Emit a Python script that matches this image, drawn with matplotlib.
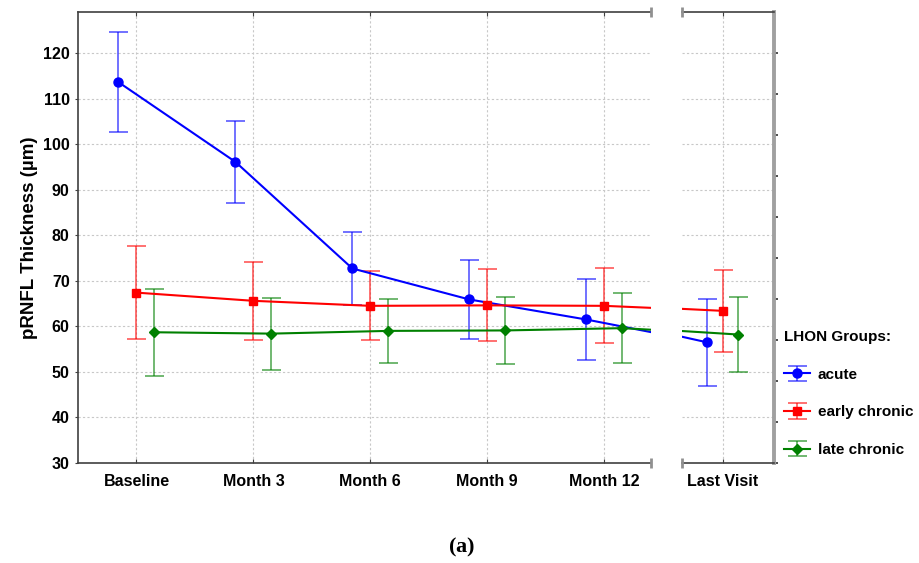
import numpy as np
import matplotlib
matplotlib.use('Agg')
import matplotlib.pyplot as plt
from matplotlib.ticker import FixedLocator

# ..data..

visits = ['Baseline', 'Month 3', 'Month 6', 'Month 9', 'Month 12', 'Last Visit']
groups = ['acute', 'early chronic', 'late chronic']

acute_mean = [113.6, 96.1, 72.7, 65.9, 61.5, 56.5]
acute_err = [11.0, 9.0, 8.1, 8.6, 8.8, 9.6]

early_mean = [67.4, 65.6, 64.5, 64.6, 64.5, 63.4]
early_err = [10.2, 8.5, 7.6, 7.9, 8.2, 9.0]

late_mean = [58.7, 58.4, 59.0, 59.1, 59.6, 58.2]
late_err = [9.6, 7.9, 7.1, 7.4, 7.7, 8.3]

# ..style..

plt.rcParams['font.family'] = ['Liberation Sans', 'DejaVu Sans']
plt.rcParams['font.weight'] = 'bold'
plt.rcParams['mathtext.fontset'] = 'custom'
plt.rcParams['mathtext.rm'] = 'Liberation Serif'
plt.rcParams['mathtext.bf'] = 'Liberation Serif:bold'

series = [
    (acute_mean, acute_err, '#0000ff', 'o', 6.5, -0.154),
    (early_mean, early_err, '#ff0000', 's', 6.0, 0.0),
    (late_mean, late_err, '#008000', 'D', 5.5, 0.154),
]

fig = plt.figure(figsize=(9.19, 5.63), dpi=100)
ax1 = fig.add_axes([78 / 919, 1 - 463 / 563, (651 - 78) / 919, 451 / 563])
ax2 = fig.add_axes([681.7 / 919, 1 - 463 / 563, (773.7 - 681.7) / 919, 451 / 563])

x = np.arange(len(visits))
handles = []
for ax in (ax1, ax2):
    for (mean, err, color, marker, ms, shift), name in zip(series, groups):
        eb = ax.errorbar(x + shift, mean, yerr=err, color=color, lw=1.5,
                         marker=marker, ms=ms, mec=color, mfc=color,
                         ecolor=matplotlib.colors.to_rgba(color, 0.65),
                         elinewidth=1.2, capsize=9.5 * 0.72, capthick=1.2,
                         label=name, zorder=3)
        if ax is ax1:
            handles.append(eb)
    ax.set_ylim(30, 129)
    ax.set_xticks(x)
    ax.set_xticklabels(visits, fontsize=11.5, fontweight='bold')
    ax.grid(True, which='major', color='#c8c8c8', linestyle=(0, (2, 2)), lw=0.8)
    ax.set_axisbelow(True)
    ax.tick_params(axis='x', direction='in', top=True, length=3, pad=8,
                   color='#404040')
    for side in ('top', 'bottom'):
        ax.spines[side].set_color('#404040')
        ax.spines[side].set_linewidth(1.2)

ax1.set_xlim(-0.5, 4.4)
ax2.set_xlim(4.6, 5.5)

# ..main panel, y axis on the left..
ax1.set_yticks(np.arange(30, 121, 10))
ax1.set_yticklabels([str(v) for v in range(30, 121, 10)], fontsize=11.5,
                    fontweight='bold')
ax1.tick_params(axis='y', direction='out', length=2, pad=4, color='#404040')
ax1.spines['left'].set_color('#404040')
ax1.spines['left'].set_linewidth(1.2)
ax1.spines['right'].set_visible(False)
ax1.set_ylabel('pRNFL Thickness (µm)', fontsize=13.5, fontweight='bold',
               labelpad=3.5)

# ..last visit panel, thick grey right edge with its own ticks..
ax2.set_yticks(np.arange(30, 121, 10))
ax2.tick_params(axis='y', which='major', left=False, right=False,
                labelleft=False)
ax2.yaxis.remove_overlapping_locs = False
ax2.yaxis.set_minor_locator(FixedLocator(np.linspace(30, 120, 11)))
ax2.tick_params(axis='y', which='minor', left=False, right=True,
                direction='out', length=3, width=1.2, color='#303030')
ax2.spines['left'].set_visible(False)
ax2.spines['right'].set_color('#a0a0a0')
ax2.spines['right'].set_linewidth(2.8)

# ..small end marks where the axis is broken..
for ax, xe in ((ax1, 1), (ax2, 0)):
    ax.plot([xe, xe], [0, 1], transform=ax.transAxes, ls='none', marker='|',
            ms=7, mew=2, color='#909090', clip_on=False, zorder=5)

leg = fig.legend(handles=handles, labels=groups, loc='upper left',
                 bbox_to_anchor=(778 / 919, 1 - 324 / 563), frameon=False,
                 title='LHON Groups:', alignment='left',
                 title_fontproperties={'weight': 'bold', 'size': 11},
                 prop={'weight': 'bold', 'size': 11},
                 labelspacing=1.55, handlelength=1.7, handletextpad=0.5,
                 borderaxespad=0)
leg._legend_box.sep = 17

fig.text(462 / 919, 1 - 547 / 563, r'$\mathrm{(}\mathbf{a}\mathrm{)}$',
         ha='center', va='center', fontsize=16)

fig.savefig('out.png', dpi=100)
